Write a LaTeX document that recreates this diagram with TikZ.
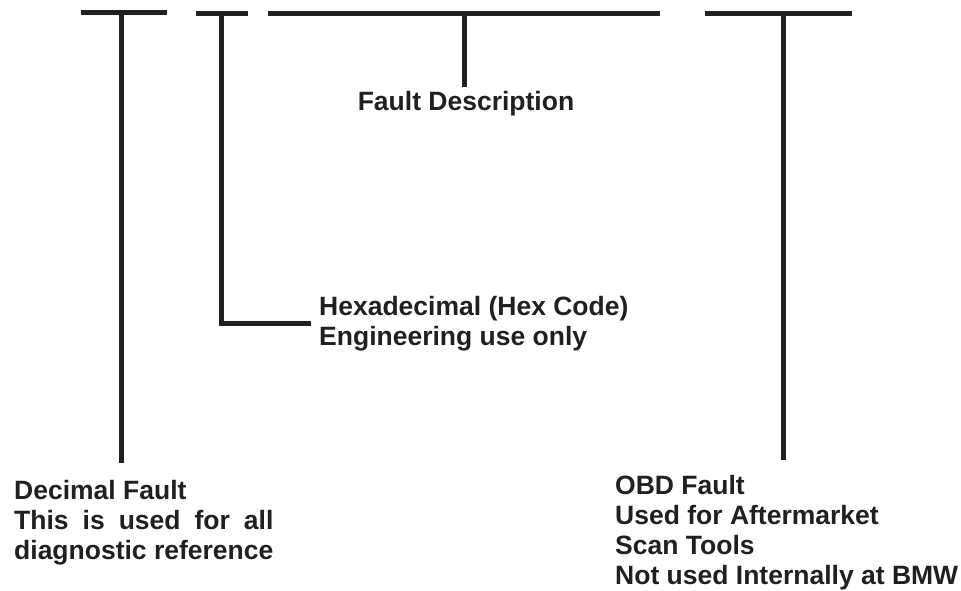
\documentclass[tikz,border=0pt]{standalone}
\usepackage{fontspec}
\setmainfont{Liberation Sans}
\usetikzlibrary{positioning}
\definecolor{ink}{RGB}{35,31,32}
\tikzset{
  bar/.style={line width=5pt, ink},
  lbl/.style={font=\bfseries\fontsize{26.5}{29.8}\selectfont, text=ink,
    inner sep=0pt, align=left, anchor=base west}
}

\begin{document}
\begin{tikzpicture}[x=1pt,y=-1pt]
    \useasboundingbox (0,0) rectangle (961,590);
    % bracket ends
    \coordinate (decL) at (81,12);
    \coordinate (decR) at (167,12);
    \coordinate (decT) at (121,12);
    \coordinate (decB) at (121,463);
    \coordinate (hexL) at (196,13);
    \coordinate (hexR) at (248,13);
    \coordinate (hexT) at (221,13);
    \coordinate (hexE) at (311,323);
    \coordinate (descL) at (268,13);
    \coordinate (descR) at (660,13);
    \coordinate (descT) at (464,13);
    \coordinate (descB) at (464,87);
    \coordinate (obdL) at (705,13);
    \coordinate (obdR) at (852,13);
    \coordinate (obdT) at (783,13);
    \coordinate (obdB) at (783,460);
    % labels (anchored at the last baseline)
    \node[lbl, anchor=base] (desc) at (466,110) {Fault Description};
    \node[lbl] (hex) at (319,345) {Hexadecimal (Hex Code)\\Engineering use only};
    \node[lbl] (dec) at (14,559) {Decimal Fault\\
      {\setbox0\hbox{diagnostic reference}\makebox[\wd0][s]{This is used for all}}\\
      diagnostic reference};
    \node[lbl] (obd) at (615,584) {OBD Fault\\Used for Aftermarket\\Scan Tools\\Not used Internally at BMW};
    % brackets
    \draw[bar] (decL) -- (decR);
    \draw[bar] (decT) -- (decB);
    \draw[bar] (hexL) -- (hexR);
    \draw[bar] (hexT) |- (hexE);
    \draw[bar] (descL) -- (descR);
    \draw[bar] (descT) -- (descB);
    \draw[bar] (obdL) -- (obdR);
    \draw[bar] (obdT) -- (obdB);
\end{tikzpicture}
\end{document}
